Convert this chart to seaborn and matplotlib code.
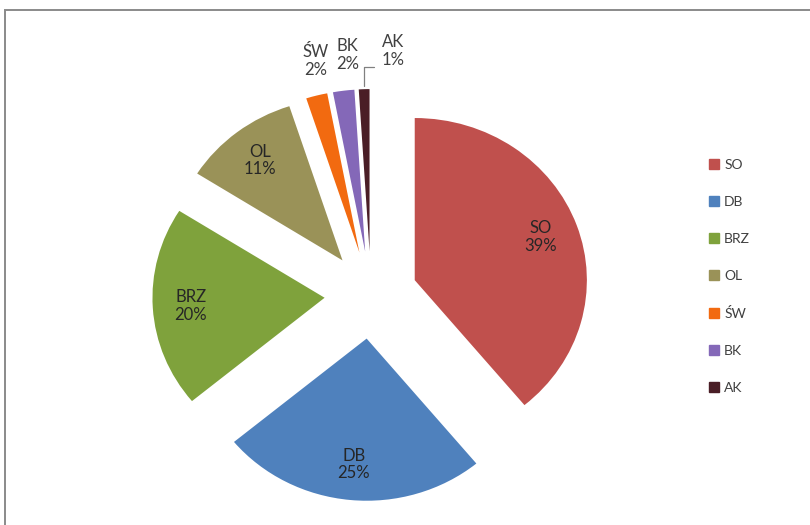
import numpy as np
import matplotlib
matplotlib.use("Agg")
import matplotlib.pyplot as plt
import matplotlib.patches as mpatches
from matplotlib.lines import Line2D
import seaborn as sns

categories = ["SO", "DB", "BRZ", "OL", "ŚW", "BK", "AK"]
values = [39, 25, 20, 11, 2, 2, 1]
pct_labels = ["39%", "25%", "20%", "11%", "2%", "2%", "1%"]
colors = ["#C0504D", "#4F81BD", "#7FA23C", "#9A9258", "#F26A10", "#8468B8", "#4A1E26"]

sns.set_theme(style="white")
plt.rcParams["font.family"] = ["Lato", "DejaVu Sans"]
palette = sns.color_palette(colors)

W, H = 810, 525
fig = plt.figure(figsize=(W / 100, H / 100), dpi=100)
fig.patch.set_facecolor("white")

# chart-area border (top-left visible)
fig.patches.append(mpatches.Rectangle((5 / W, -0.05), 1.2, (H - 10) / H + 0.05,
                                      transform=fig.transFigure, fill=False,
                                      edgecolor="#8a8a8a", linewidth=1.4))

ax = fig.add_axes([130 / W, 3 / H, 482 / W, 454 / H])
wedges, _ = ax.pie(values, colors=palette, startangle=90, counterclock=False,
                   explode=[0.27] * len(values), radius=1.0,
                   wedgeprops=dict(linewidth=0))
ax.set_aspect("auto")
ax.set_xlim(-1.4, 1.4)
ax.set_ylim(-1.4, 1.4)
ax.axis("off")

FS = 12
for i, w in enumerate(wedges):
    mid = np.deg2rad((w.theta1 + w.theta2) / 2)
    cx, cy = w.center
    txt = f"{categories[i]}\n{pct_labels[i]}"
    if values[i] >= 5:
        d = 0.78
        ax.text(cx + d * np.cos(mid), cy + d * np.sin(mid), txt, ha="center", va="center",
                fontsize=FS, color="#262626", linespacing=1.15)
    elif i < len(values) - 1:
        d = 1.22
        ax.text(cx + d * np.cos(mid) + 0.05, cy + d * np.sin(mid), txt, ha="center",
                va="center", fontsize=FS, color="#404040", linespacing=1.15)
    else:
        d = 1.236
        tx = cx + d * np.cos(mid) + 0.175
        ty = cy + d * np.sin(mid)
        ax.text(tx, ty, txt, ha="center", va="center",
                fontsize=FS, color="#404040", linespacing=1.15)
        x0 = cx + 1.0 * np.cos(mid)
        y0 = cy + 1.02 * np.sin(mid)
        y1 = ty - 0.1
        ax.plot([x0, x0, x0 + 0.06], [y0, y1, y1], color="#808080", lw=0.9,
                clip_on=False)

handles = [Line2D([0], [0], marker="s", linestyle="none", markersize=7,
                  markerfacecolor=c, markeredgecolor=c) for c in palette]
fig.legend(handles, categories, loc="upper left", bbox_to_anchor=(697 / W, 1 - 146 / H),
           frameon=False, fontsize=10, labelspacing=1.8, handlelength=0.6,
           handletextpad=0.45, labelcolor="#404040")

fig.savefig("out.png", dpi=100, facecolor="white")
